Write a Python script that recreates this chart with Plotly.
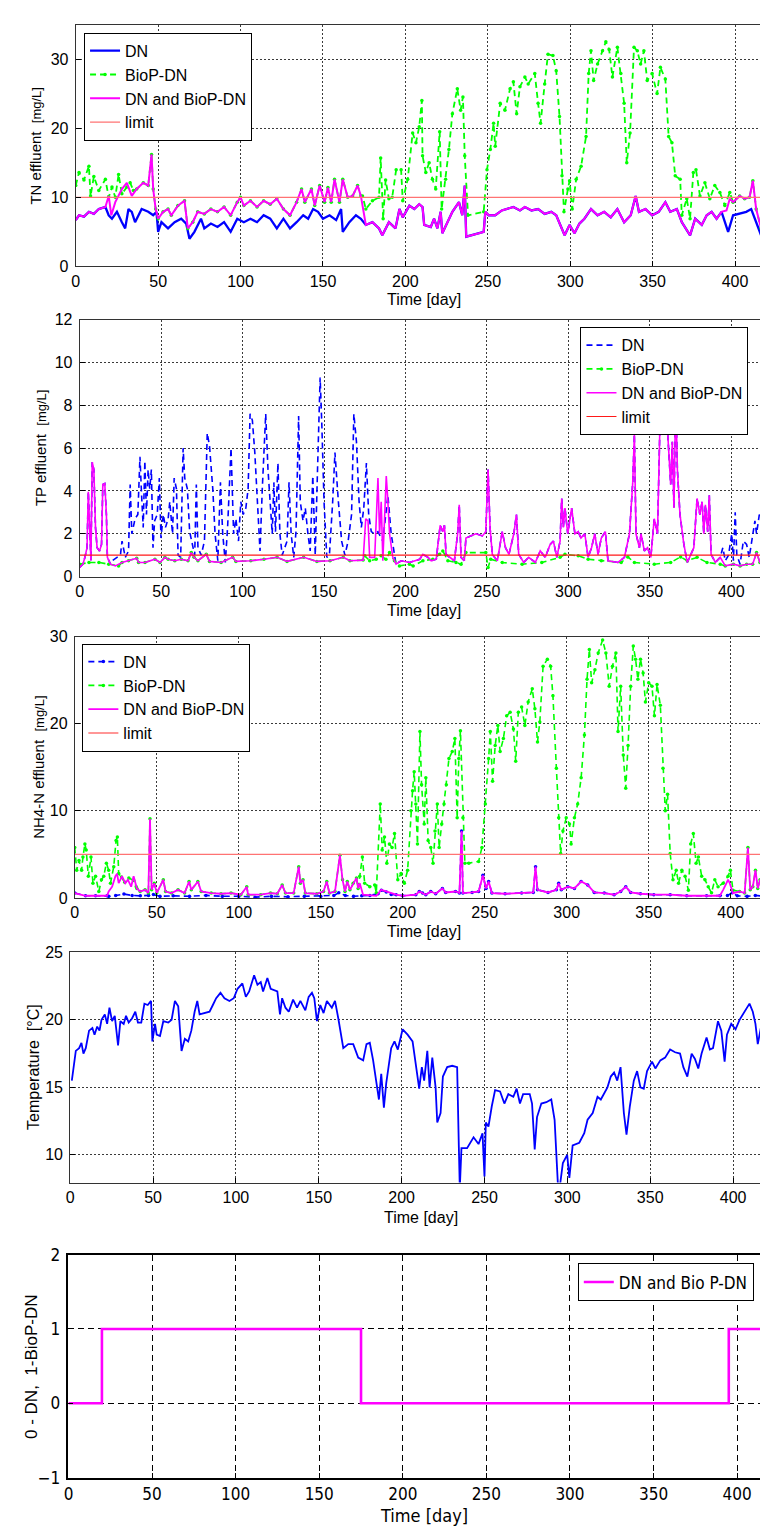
import plotly.graph_objects as go

# ---------------- data ----------------
x_ticks = [0, 50, 100, 150, 200, 250, 300, 350, 400]
limit_days = [0, 430]
tn_limit = 10
tp_limit = 1
nh_limit = 5

# TN effluent [mg/L]
tn_combined = [(0,6.7),(2,7.4),(5,7.2),(8,7.9),(11,7.6),(14,8.3),(18,8.6),(20,10.2),(21.6,7.4),(24,9.3),(28,11.2),(31,12.1),(34,10.2),(37,11.2),(41,12.1),(44,11.7),(46,16.2),(47,11.2),(48.5,8.3),(50,6.9),(53,7.9),(56,8.3),(58,7.4),(62,8.8),(66,9.5),(68,5.5),(71,6.4),(74,7.9),(78,7.6),(82,8.3),(86,7.9),(90,8.6),(94,7.4),(98,9.3),(100,10),(102,8.8),(106,9.5),(110,8.6),(114,9.5),(118,9),(122,9.8),(126,8.3),(130,7.4),(134,9.3),(137,11.2),(139,9.3),(143,11.2),(145,8.8),(148,11.7),(151,9.3),(153,11.4),(155,9.3),(157,12.6),(160,9.3),(162,12.6),(165,10),(168,10.2),(171,11.7),(173,10.2),(176,6),(180,6.4),(184,5.5),(186,4.5),(190,6.4),(194,5.5),(196.4,8.3),(198.4,7.1),(202.4,8.8),(205.4,8.3),(208.4,9),(210.4,8.6),(211.4,6),(215.4,5.7),(217.4,6.9),(219.4,5.5),(221.4,7.9),(222.4,4.8),(225.4,6.4),(228.5,7.9),(232.5,9.3),(234.5,7.4),(236,11.7),(236.9,4.3),(247.5,5),(248.5,7.9),(250.5,7.4),(254.5,7.4),(258.5,8.1),(265.5,8.6),(269.5,8.1),(272.5,8.6),(276.5,8.1),(280.5,8.3),(284.5,7.6),(288.5,7.9),(291.5,7.4),(294.6,5.5),(296.6,4.5),(299.6,6),(302.6,4.8),(305.6,6.2),(308.6,6.9),(312.6,8.3),(316.6,7.4),(320.6,7.9),(324.6,7.1),(328.6,8.3),(332.7,6.4),(336.7,7.4),(339.7,10.2),(341.7,7.9),(345.7,8.3),(349.7,7.4),(353.7,7.9),(357.7,9.3),(360.7,7.9),(364.7,8.3),(367.7,6.4),(372.7,4.5),(375.8,6.9),(379.8,6),(382.8,7.4),(385.8,7.9),(388.8,6.9),(391.8,7.9),(394.8,8.1),(396.8,9.8),(398.8,9.3),(402.8,10.2),(405.8,9.8),(408.8,10),(410.8,12.4),(412.8,8.3),(415.8,5.5),(418.8,9.3),(420.8,8.3),(424,9.3)]
tn_dn_a = [(20,7.4),(22,6.9),(25,7.9),(28,6.4),(30,5.5),(32,8.3),(34,7.9),(36,6.4),(40,8.3),(44,7.9),(47,7.4),(49,7.9),(50,5),(52,6.4),(56,5.5),(60,6.4),(64,6.9),(67,6.2),(69,4),(72,5),(76,6.9),(78,5.5),(82,6.2),(86,5.7),(90,6.4),(94,5),(98,6.9),(102,6.4),(106,6.9),(110,6.4),(114,7.4),(118,6.9),(122,5.5),(126,6.9),(130,5.5),(134,6.4),(138,7.4),(141,6.9),(144,8.3),(147,7.9),(150,6.9),(154,7.4),(158,6.7),(161,8.3),(162,5),(166,6.4),(170,7.4),(173,6.9),(176,6)]
tn_dn_b = [(393.8,6.4),(395.8,5),(398.8,7.4),(402.8,7.6),(406.8,7.9),(409.8,8.3),(412.8,6.4),(415.8,4.5),(418.8,6.4),(424,7.1)]
tn_biop_a = [(0,11.7),(2,13.6),(5,12.5),(8,14.5),(9,10.2),(11,13),(14,11),(18,12.6),(20,10),(22,11.5),(24,10),(26,13.3),(28,10.5),(31,11.5),(33,12.1),(35,11)]
tn_biop_b = [(174,10.2),(176,8.3),(180,9.5),(184,10),(185,15.7),(186.5,6.9),(188,12.5),(190,9.8),(192,10),(194.4,14),(197.4,14),(198.4,9.5),(201.4,12.6),(204.4,19.3),(206.4,17.9),(208.4,20.2),(210,24),(210.4,16),(212.4,13.6),(214.4,15),(216.4,12.6),(218.4,11.2),(220.8,19.5),(222,8.3),(224.4,12.6),(226.4,16.9),(228.5,22.1),(231.5,25.7),(233.5,22.6),(234.9,24.5),(236,16),(238,7.4),(247.5,7.9),(249.5,14),(251.5,16.9),(253.5,20.7),(254.5,17.4),(257.5,23.6),(260.4,22.6),(263.5,25.7),(265.5,26.7),(267.5,22.1),(269.5,26),(272.5,27.4),(274.5,26.4),(278.5,27.9),(280.5,23.6),(282,20.7),(284.5,26.4),(286.5,30.7),(289.5,30.5),(291.5,28.3),(293.5,21.7),(295,13.1),(296.2,7.9),(298.6,11.2),(299.6,12.4),(301.2,8.3),(303.6,12.6),(306.6,14.5),(309.6,18.8),(311.2,27.9),(312.6,31.2),(314.2,26.9),(316.6,29.3),(319.6,31.2),(321.6,32.5),(323.6,31.4),(325.6,27.4),(328.6,31.7),(330.7,27.9),(332.7,23.6),(334.3,15),(336.3,19.3),(338.7,31.7),(340.7,31.2),(342.7,29.3),(344.7,31.2),(346.7,26.9),(349.7,27.9),(352.7,25),(354.7,28.8),(357.7,27.1),(359.7,18.8),(361.7,17.9),(363.7,13.1),(366.7,12.6),(367.7,7.4),(370.7,9.8),(372.7,6.9),(374.7,13.6),(376.3,14),(378.7,10.2),(381.7,12.1),(384.7,9.8),(387.7,11.7),(390.8,10.7),(393.8,8.8),(396.8,10.7)]

# TP effluent [mg/L]
tp_combined = [(0,0.43),(2,0.58),(3.2,0.9),(4.5,1.35),(5.3,3.96),(6.3,2.3),(6.9,0.74),(7.7,5.35),(8.7,5),(9.7,2.3),(10.7,1.35),(12.2,1.2),(13.4,1.5),(14.2,4.3),(15.4,4.35),(16.4,2.9),(17,0.9),(18.9,0.58),(21.9,0.5),(26,0.66),(30,0.74),(35,0.86),(36.1,0.66),(40.1,0.66),(46.2,0.81),(49.3,0.66),(52.3,0.9),(54.3,0.81),(58.4,0.74),(62.4,0.81),(66.5,0.74),(68.5,1.12),(70.2,0.9),(72.6,0.74),(77.7,1.04),(79.7,0.71),(86.8,0.66),(93.9,0.9),(95.9,0.71),(105,0.74),(113.1,0.81),(121.2,0.9),(127.3,0.71),(137.5,0.9),(145.6,0.71),(153.7,0.74),(161.8,0.9),(165.9,0.74),(174,0.77),(175.6,2.7),(177,2.6),(178,0.9),(181.1,0.9),(183.1,4.6),(184.1,2),(185.1,3.5),(186.1,0.74),(188.2,4.7),(189.2,3.5),(190.2,2),(192.2,0.9),(194.2,0.58),(197.3,0.74),(202.5,0.66),(208.7,0.81),(210.7,1.04),(213.8,0.9),(215.8,0.74),(218.9,0.81),(221.3,2.4),(222.9,2.1),(223.9,2.4),(224.9,1.04),(227,0.9),(230,0.74),(232,2),(233,3.35),(234.1,0.9),(236.1,0.74),(237.1,1.8),(240.1,1.9),(243.2,2),(247.2,1.9),(249.3,2.1),(250.7,5),(251.9,2.3),(253.3,1.04),(256.4,0.74),(259.4,2.1),(261.4,1.35),(263.5,1.04),(266.5,2),(268.1,2.9),(269.5,1.04),(272.6,0.66),(275.6,0.9),(279.7,0.66),(282.7,1.2),(285.8,0.9),(288.8,1.5),(290.8,1.66),(292.9,0.9),(294.9,1.66),(295.9,3.65),(296.9,2.3),(297.9,3.2),(299.6,2),(301,2.6),(302,3.2),(304,2),(306,2.1),(307.7,1.8),(310.1,2),(312.1,0.9),(314.2,1.35),(316.2,2),(318.2,1.04),(320.2,1.8),(322.7,2.1),(324.3,0.74),(330.4,0.66),(334.4,0.9),(337.5,2),(339.5,4.4),(340.5,6.65),(341.5,2),(343.6,1.35),(344.6,2),(346.6,1.2),(348.6,1.35),(350.6,0.9),(352.7,2.7),(354.7,2),(356.7,8.8),(357.7,7.6),(359.8,8.2),(361.8,5.8),(362.8,4.3),(363.8,6.3),(364.8,3.2),(365.9,8.5),(366.9,5),(368.5,2.9),(370.9,1.5),(373,0.66),(375,1.04),(377,1.35),(379,3.65),(380.7,2.9),(382.1,3.5),(383.1,2),(384.1,3.35),(385.5,2.1),(386.5,3.8),(387.6,1.04),(390.2,0.66),(393.2,0.9),(396.3,0.5),(401.3,0.58),(405.4,0.5),(409.4,0.58),(413.1,0.58),(415.5,1.12),(417.6,0.66),(426.5,0.66)]
tp_dn_a = [(19.9,0.74),(22.9,0.9),(25,1),(26,1.66),(28,0.9),(30,1.2),(31,4.3),(32,2),(34,2.7),(35.7,2.9),(37,5.6),(38,3.8),(39,2.3),(40,5.4),(41,2.9),(42,5),(43,4.1),(44,5),(45,1.35),(46,2.6),(47.6,2.9),(48.9,4.6),(49.9,1.8),(51.3,2.9),(52.7,2.3),(54.3,2.7),(55.3,3.5),(57,2),(58,4.6),(59.4,4.1),(60.4,1),(62,0.9),(63.5,6),(64.5,4.6),(66.1,4.1),(67.5,2.1),(69.5,1.35),(70.6,1),(71.6,4.3),(72.6,1.35),(74.6,1),(76.6,1.66),(78.3,6.7),(79.7,6.1),(81.7,4.1),(83.1,2),(84.8,0.74),(86.4,4.4),(87.8,2),(89.4,0.66),(90.8,2.3),(92.9,6),(94.5,2),(95.9,2.7),(97.5,1.66),(98.9,3.5),(100.4,2.9),(102,3.2),(103.4,4.1),(104.6,7.6),(106,7.3),(107.5,5.8),(109.1,3.5),(110.7,1.2),(112.1,4.1),(114.2,7.6),(115.6,5),(117.2,2.9),(118.2,2),(119.2,4.4),(120.2,2.1),(121.7,5.3),(122.9,2),(124.3,1),(125.7,1.35),(127.3,1.66),(128.5,4.4),(129.8,2),(131.4,0.9),(132.8,2.1),(134.4,7.5),(135.4,3.5),(137.1,2.6),(138.5,3.2),(140.1,2),(141.5,1.2),(143.1,4.7),(144.6,1),(146,5),(147.6,9.3),(148.6,7.2),(150,3.5),(151.7,0.9),(153.3,1),(155.3,3.5),(156.7,5.8),(158.8,3.5),(160.8,1.66),(162.8,1),(164.8,1.66),(166.9,2.9),(168.3,7.6),(169.9,6.3),(171.5,3.5),(172.9,2.3),(174.4,3.2),(176,5.3),(177.4,2.9),(179,2.1),(181,2),(183.1,2.1),(186.1,1.66),(189.2,3.8),(191.2,2),(194.2,0.58),(197.3,0.74)]
tp_dn_b = [(393.2,0.9),(394.8,1.35),(396.3,0.74),(398.3,1),(400.3,2),(401.3,0.74),(402.4,3),(403.4,1),(405.4,0.58),(407.4,1.66),(409.4,1.5),(411,0.9),(412.5,1.66),(414.5,2.6),(415.5,2),(417.2,2.9),(418.6,2.7),(420.6,3.8),(422.6,5.3),(423.6,6.5),(425.5,1)]
tp_biop_a = [(0,0.58),(5.7,0.66),(11.8,0.66),(17.8,0.58),(23.9,0.5)]
tp_biop_b = [(175,0.97),(178,0.74),(182,0.81),(185,0.97),(188,0.81),(190.2,1.12),(193.2,0.74),(196.3,0.5),(202.4,0.58),(204.7,0.5),(210.7,0.74),(216.8,0.81),(220.9,1.04),(222.9,1.2),(226,0.74),(231,0.66),(234.1,0.58),(237.1,1.12),(249.3,1.12),(250.7,0.43),(252.3,0.81),(259.4,0.66),(271.6,0.58),(283.7,0.66),(294.9,0.9),(297.9,1.04),(306,0.97),(312.1,0.81),(320.2,0.74),(332.4,0.66),(336.5,0.92),(340.5,0.66),(352.7,0.58),(362.8,0.66),(368.9,0.92),(373,0.74),(379,0.9),(385.1,0.66),(393.2,0.58)]

# NH4-N effluent [mg/L]
nh_combined = [(0,0.57),(6.6,0.26),(12.7,0.26),(19.7,0.26),(20.7,0.75),(22.8,1.3),(24.8,2.5),(25.8,2.8),(26.8,1.7),(28.8,2.5),(30.8,1.7),(32.4,2.1),(34.4,1.3),(35.9,2.5),(37.9,1.1),(39.9,0.75),(42.9,0.94),(44.9,0.57),(45.9,9.1),(46.9,0.94),(48.5,1.7),(50,0.57),(54,2.1),(55.4,0.75),(59,0.57),(63,0.94),(67,0.57),(69.7,1.9),(71.1,0.94),(75.1,1.9),(77.1,0.75),(83.2,0.57),(89.2,0.49),(95.3,0.57),(101.3,0.38),(104.9,1.3),(105.7,0.38),(113.4,0.38),(119.4,0.57),(123.5,0.49),(126.5,1.5),(128.5,0.57),(133.5,0.57),(136.6,3.6),(137.6,1.7),(139.2,2.1),(140.6,0.57),(147.6,0.49),(151.7,0.75),(153.7,1.9),(155.3,0.57),(158.7,0.75),(161.7,4.9),(163.3,2.1),(164.8,0.75),(166.2,1.9),(167.8,0.94),(169.8,1.7),(171.8,2.3),(172.8,1.1),(173.8,1.7),(175.8,0.38),(183.9,0.26),(186.9,0.94),(190,0.75),(196,0.38),(200,0.26),(208,0.38),(210.1,0.75),(212.1,0.57),(214.1,0.38),(217.1,0.75),(220.1,0.49),(224.2,1.1),(226.2,0.64),(232.2,0.75),(234.6,0.57),(235.9,7.7),(236.7,0.57),(242.3,0.64),(246.3,0.75),(248.9,2.6),(250.8,1.1),(252.4,1.9),(254.4,0.57),(262.4,0.49),(272.5,0.57),(279.6,0.64),(281,3.6),(282.2,0.94),(288.6,0.64),(293.7,0.94),(295.1,1.7),(296.7,0.94),(300.7,1.3),(304.7,1.1),(308.8,1.9),(312.8,1.5),(316.8,0.64),(322.9,0.57),(328.9,0.38),(332.9,0.75),(336,1.3),(339,0.64),(345,0.49),(353.1,0.38),(363.1,0.38),(373.2,0.26),(385.3,0.26),(393.4,0.26),(395.4,0.94),(398.4,2.1),(399.4,1.7),(401.4,0.57),(405.4,0.75),(408.5,0.57),(410.5,5.8),(411.9,0.94),(413.5,1.3),(415.1,3.2),(416.5,1.1),(417.9,2.1),(419.5,0.57),(423.6,0.75),(426.4,0.94)]
nh_dn_a = [(20.7,0.2),(25,0.3),(30,0.45),(35,0.3),(40,0.25),(45,0.3),(48,0.4),(52,0.2),(60,0.25),(70,0.2),(80,0.3),(90,0.2),(100,0.2),(110,0.1),(120,0.2),(130,0.15),(140,0.2),(150,0.2),(158,0.3),(161,0.6),(165,0.3),(170,0.2),(175,0.25),(180,0.3),(185,0.5),(187,0.9),(190,0.7),(193,0.4),(196,0.38)]
nh_dn_b = [(393.4,0.26),(398,0.3),(401,0.6),(404,0.25),(410,0.2),(415,0.3),(420,0.2),(426.4,0.2)]
nh_biop_a = [(0,5.8),(1.2,3.2),(2.6,4.3),(4.2,3.2),(5,4.7),(6.2,6.2),(7,5.5),(8.3,2.5),(9.9,4.7),(11.1,1.7),(12.7,2.5),(14.7,0.75),(16.3,2.1),(17.7,2.5),(19.3,4),(20.7,3.2),(21.8,1.7),(23.8,3.6),(25.2,6.6),(26,7),(26.8,2.8),(28.5,2.4),(30.5,1.8),(33,2.3),(36,2),(37.5,1.3)]
nh_biop_b = [(173.8,2.5),(175.4,4.7),(176.8,1.7),(179.9,1.3),(182.9,1.5),(183.9,0.6),(186.3,10.8),(187.5,5.5),(188.9,7),(190.3,4),(191.9,6.2),(193.5,5.8),(195,7.4),(197,2.1),(199,2.8),(201,1.7),(203,3.2),(205,10),(206,12.3),(207,14.5),(208,10.8),(209,6.2),(210.5,19.1),(211.5,13),(213.1,8.5),(214.1,13.8),(215.5,6.6),(217.1,5.8),(218.5,4),(219.7,7.7),(221.1,10.8),(222.2,5.8),(223.8,8.5),(225.2,10.8),(226.6,13),(228.2,16),(230.2,16.8),(231.8,18.3),(233.2,9.2),(234.2,16),(235.2,19.2),(236.7,9.2),(237.9,4),(240.3,4),(246.3,4.2),(248.3,5.8),(250.4,10.8),(252.4,16),(253.4,19.1),(254.8,13.4),(256.4,17.5),(258,19.8),(259.4,16.8),(261.4,18.3),(263.4,20.9),(265.5,21.3),(267.5,19.4),(268.9,15.7),(270.5,21.3),(272.5,21.9),(274.5,19.8),(276.5,22.5),(279,24),(280.6,21.7),(282.2,17.9),(283.6,20.2),(285.6,26.6),(288.2,27.4),(290.2,26.6),(291.6,23.2),(293.7,14.9),(295.1,9.2),(296.3,5.1),(297.7,7.7),(299.7,9.2),(301.7,8.5),(302.7,6.2),(304.7,9.2),(306.7,10.8),(308.8,13.8),(310.8,18.7),(312.4,25.1),(313.8,28.5),(315.2,24.7),(317.2,26.2),(319.2,28.1),(321.9,29.6),(323.9,28.1),(325.9,24.3),(327.9,26.6),(330,28.1),(331.3,19.1),(332.9,24.3),(334.5,16.4),(336,12.6),(337.4,17.5),(339,24.3),(340.6,28.9),(342,27.4),(343.4,25.1),(345,27.4),(346.6,25.8),(348,22.5),(350,24.7),(352,24.3),(353.5,20.9),(355.1,24.5),(357.1,22.1),(358.7,14.9),(360.1,10),(361.5,11.9),(363.1,5.1),(364.8,2.1),(366.8,3.2),(368.2,1.7),(370.2,3.2),(372.2,2.5),(374.2,0.9),(375.6,6.2),(377.2,7.4),(378.9,4),(380.3,4.7),(382.3,2.5),(384.3,2.1),(386.3,1.3),(388.3,0.6),(390.3,2.1),(392.3,1.3),(395.4,1.7),(398.4,2.5),(399.8,3.2),(401.4,0.9)]

# Temperature [°C]
temperature = [(1,15.5),(2.4,17),(3.4,17.7),(5.4,17.9),(6.8,18.3),(8,17.5),(9.4,17.9),(11.4,19.2),(13.4,19.4),(14.7,18.9),(16.3,19.5),(17.7,19.2),(18.9,20),(20.9,20.4),(22.3,19.7),(23.7,20.9),(25.3,19.9),(26.9,20.3),(28.9,18.1),(30.3,19.9),(32.3,19.7),(33.7,20.3),(35.3,19.8),(37.3,20.1),(39.3,20.6),(40.9,19.8),(42.9,19.8),(44.8,21.2),(46.8,21.1),(48.8,21.4),(49.6,18.4),(51.2,19.7),(52.2,18.9),(54.2,18.8),(56.2,19.9),(59.2,19.8),(61.2,20),(63.2,21.4),(65.2,21),(67.2,17.7),(69.2,18.6),(71.2,18.4),(73.1,19.2),(75.1,20.6),(76.7,21.4),(78.1,20.4),(81.1,20.5),(84.1,20.6),(86.1,21.1),(88.1,21.6),(90.7,22),(93.1,21.6),(96.1,21.4),(98.7,21.6),(101,22.3),(103.9,22.7),(106,21.7),(108,22.1),(111,23.3),(113,22.6),(115,22.8),(116.4,22.1),(119,23.1),(121,22.3),(125,22.1),(126.6,20.4),(127.9,21.6),(129.9,20.9),(131.9,20.6),(134.5,21.5),(136.9,20.9),(138.9,21.4),(141.9,20.7),(143.9,21.7),(145.9,22),(147.3,21.6),(148.9,19.9),(150.9,21.1),(152.9,20.5),(154.9,21.4),(157.9,20.9),(159.8,21.4),(161.8,20.1),(163.8,18.7),(164.8,17.9),(167.8,18.2),(170.8,18.2),(173.8,17.2),(176.8,17),(178.8,18.2),(180.8,18.3),(182.8,17),(184.8,15.5),(186.3,14.1),(187.7,16),(189.3,13.5),(190.7,15.3),(193.7,17.9),(195.7,18.4),(197.7,17.8),(200.6,19.3),(203.6,18.9),(206.6,18.4),(208.6,16.5),(210.6,14.9),(212.2,16.5),(213.6,15.5),(215.5,17.7),(216.9,15),(218.5,17.2),(220.5,15),(221.5,12.4),(223.5,13.1),(224.9,15.8),(227.5,16.5),(230.5,16.6),(233.5,16.5),(234.5,10.7),(235.1,7.5),(236.1,10.5),(239.5,10.5),(243.4,11.3),(246.4,10.8),(248.8,11.6),(250,8.4),(250.8,12.4),(252.4,12.1),(254.4,13.6),(256.4,14.8),(259.4,14.7),(262,13.8),(264.4,14.5),(267.4,14.3),(269.4,14.9),(271.4,13.8),(273.3,14.5),(277.3,14.5),(278.7,13.8),(280.3,10.4),(281.7,12.8),(284.3,13.8),(287.3,13.9),(290.3,14.1),(292.3,12.6),(294.3,7.8),(295.3,7.5),(297.3,9.4),(299.9,10),(301.2,8.3),(303.2,10.7),(305.2,10.8),(307.2,10.9),(310.2,11.6),(312.2,12.6),(315.3,13.1),(318.2,14.3),(320.2,14.1),(322.2,14.5),(324.2,15),(326.2,15.8),(328.2,16.1),(330.1,15.5),(332.1,16.5),(334.1,13.1),(335.7,11.5),(337.7,13.6),(340.1,15.5),(342.1,16.2),(344.1,15),(346.1,14.9),(348.1,16.2),(351.1,16.9),(353.1,16.4),(356.1,17),(359,17.2),(362,17.8),(365,17.6),(368,17.5),(370,16.5),(372.4,15.8),(375,17.5),(377,17.1),(379,16.4),(381,17.5),(384,18.7),(386,17.8),(387.9,17.9),(390.9,19.9),(392.9,19.2),(394.9,16.9),(396.3,18.9),(398.9,19.7),(401.5,19.3),(403.9,20),(406.9,20.6),(409.9,21.2),(411.9,20.6),(413.5,19.7),(414.9,18.2),(416.9,19.5),(418.9,20),(421.8,20.1),(423.8,21),(425,21.2)]

# Operating mode: 0 - DN, 1 - BioP-DN
mode_days = [0, 20, 175, 395, 425]
mode_state = [0, 1, 0, 1, 1]

# ---------------- helpers ----------------
def between(pts, lo, hi):
    return [p for p in pts if lo < p[0] < hi]

def xs(pts):
    return [p[0] for p in pts]

def ys(pts):
    return [p[1] for p in pts]

# hidden stretches lie under the combined curve
tn_dn = between(tn_combined, -1, 20) + tn_dn_a + between(tn_combined, 176, 393.8) + tn_dn_b
tn_biop = tn_biop_a + between(tn_combined, 35, 174) + tn_biop_b + between(tn_combined, 396.8, 999)
tp_dn = between(tp_combined, -1, 19.9) + tp_dn_a + between(tp_combined, 197.3, 393.2) + tp_dn_b
tp_biop = tp_biop_a + between(tp_combined, 23.9, 175) + tp_biop_b + between(tp_combined, 393.2, 999)
nh_dn = between(nh_combined, -1, 20.7) + nh_dn_a + between(nh_combined, 196, 393.4) + nh_dn_b
nh_biop = nh_biop_a + between(nh_combined, 37.5, 173.8) + nh_biop_b + between(nh_combined, 401.4, 999)

# ---------------- figure ----------------
W, H = 768, 1529
FONT = "Liberation Sans, Arial, Helvetica, sans-serif"
NARROW = "Liberation Sans Narrow, Arial Narrow, DejaVu Sans Condensed, sans-serif"
BLUE, GREEN, MAG = "#0000FF", "#00FF00", "#FF00FF"

# pixel geometry of the five plot boxes
panels = [
    dict(left=63.3, top=7.3, bottom=251.7, ppu=1.6635, yr=[0, 34.9], yt=[0, 10, 20, 30]),
    dict(left=67.3, top=305.7, bottom=566.0, ppu=1.644, yr=[0, 12], yt=[0, 2, 4, 6, 8, 10, 12]),
    dict(left=62.3, top=626.7, bottom=891.7, ppu=1.655, yr=[0, 30], yt=[0, 10, 20, 30]),
    dict(left=57.7, top=946.7, bottom=1180.0, ppu=1.6725, yr=[7.95, 25], yt=[10, 15, 20, 25]),
    dict(left=56.0, top=1253.0, bottom=1479.0, ppu=1.687, yr=[-1, 2], yt=[-1, 0, 1, 2]),
]

fig = go.Figure()

def add(i, pts_x, pts_y, name, color, width, dash="solid", marker=False, legend="legend", show=True, shape="linear"):
    sfx = "" if i == 0 else str(i + 1)
    fig.add_trace(go.Scatter(
        x=pts_x, y=pts_y, name=name,
        mode="lines+markers" if marker else "lines",
        line=dict(color=color, width=width, dash=dash, shape=shape),
        marker=dict(size=3.5, color=color),
        xaxis="x" + sfx, yaxis="y" + sfx,
        legend=legend, showlegend=show, hoverinfo="skip"))

DASH = "6px,4px"
LIM_LIGHT = "rgb(255,115,115)"
LIM_RED = "rgb(255,25,25)"

# panel 1
add(0, xs(tn_dn), ys(tn_dn), "DN", BLUE, 2.3, legend="legend")
add(0, xs(tn_biop), ys(tn_biop), "BioP-DN", GREEN, 1.8, DASH, marker=True, legend="legend")
add(0, xs(tn_combined), ys(tn_combined), "DN and BioP-DN", MAG, 2.0, legend="legend")
add(0, limit_days, [tn_limit, tn_limit], "limit", LIM_LIGHT, 1.3, legend="legend")
# panel 2
add(1, xs(tp_dn), ys(tp_dn), "DN", BLUE, 1.6, DASH, legend="legend2")
add(1, xs(tp_biop), ys(tp_biop), "BioP-DN", GREEN, 1.6, DASH, marker=True, legend="legend2")
add(1, xs(tp_combined), ys(tp_combined), "DN and BioP-DN", MAG, 1.6, legend="legend2")
add(1, limit_days, [tp_limit, tp_limit], "limit", LIM_RED, 1.2, legend="legend2")
# panel 3
add(2, xs(nh_dn), ys(nh_dn), "DN", BLUE, 1.6, DASH, marker=True, legend="legend3")
add(2, xs(nh_biop), ys(nh_biop), "BioP-DN", GREEN, 1.6, DASH, marker=True, legend="legend3")
add(2, xs(nh_combined), ys(nh_combined), "DN and BioP-DN", MAG, 1.8, legend="legend3")
add(2, limit_days, [nh_limit, nh_limit], "limit", LIM_LIGHT, 1.3, legend="legend3")
# panel 4
add(3, xs(temperature), ys(temperature), "Temperature", BLUE, 1.8, show=False)
# panel 5
add(4, mode_days, mode_state, "DN and Bio P-DN", MAG, 2.6, legend="legend4", shape="hv")

layout = dict(
    width=W, height=H, autosize=False,
    margin=dict(l=0, r=0, t=0, b=0, pad=0),
    paper_bgcolor="white", plot_bgcolor="white",
    font=dict(family=FONT, size=16, color="black"),
    showlegend=True,
)

for i, p in enumerate(panels):
    sfx = "" if i == 0 else str(i + 1)
    last = i == 4
    tickfont = dict(family=NARROW if last else FONT, size=17 if last else 16, color="black")
    grid = dict(gridcolor="#000000" if last else "#3a3a3a", gridwidth=1,
                griddash="6px,4px" if last else "2px,2px")
    xmax = (W - p["left"]) / p["ppu"]
    layout["xaxis" + sfx] = dict(
        domain=[p["left"] / W, 1], range=[0, xmax], anchor="y" + sfx,
        tickmode="array", tickvals=x_ticks, tickfont=tickfont,
        showgrid=True, zeroline=False, showline=True,
        linecolor="black" if last else "#333333", linewidth=1.5 if last else 1, mirror=True,
        ticks="inside", ticklen=5, tickcolor="black", ticklabelstandoff=0, **grid)
    layout["yaxis" + sfx] = dict(
        domain=[1 - p["bottom"] / H, 1 - p["top"] / H], range=p["yr"], anchor="x" + sfx,
        tickmode="array", tickvals=p["yt"], tickfont=tickfont,
        showgrid=True, zeroline=False, showline=True,
        linecolor="black" if last else "#333333", linewidth=1.5 if last else 1, mirror=True,
        ticks="inside", ticklen=5, tickcolor="black", ticklabelstandoff=3, **grid)

def legend_box(px, py, family=FONT, size=16):
    return dict(x=px / W, y=1 - py / H, xanchor="left", yanchor="top",
                xref="paper", yref="paper",
                bgcolor="white", bordercolor="black", borderwidth=1,
                font=dict(family=family, size=size, color="black"),
                tracegroupgap=0, itemwidth=30, traceorder="normal")

layout["legend"] = legend_box(71.7, 15)
layout["legend2"] = legend_box(572.7, 313.3)
layout["legend3"] = legend_box(70, 634)
layout["legend4"] = legend_box(570, 1262, NARROW, 17)

def ann(text, px, py, angle=0, size=16, family=FONT):
    return dict(text=text, x=px / W, y=1 - py / H, xref="paper", yref="paper",
                showarrow=False, textangle=angle, xanchor="center", yanchor="middle",
                font=dict(size=size, family=family, color="black"))

small = "<span style='font-size:13px'>[mg/L]</span>"
layout["annotations"] = [
    ann("TN effluent  " + small, 23, 129.5, -90, 15),
    ann("TP effluent  " + small, 28, 436, -90, 15),
    ann("NH4-N effluent  " + small, 25, 759, -90, 15),
    ann("Temperature  [°C]", 20, 1063, -90, 16),
    ann("0 - DN,  1-BioP-DN", 18, 1366, -90, 17),
    ann("Time [day]", 415, 285),
    ann("Time [day]", 415, 600),
    ann("Time [day]", 415, 926),
    ann("Time [day]", 412, 1215),
    ann("Time [day]", 415, 1517, 0, 18, NARROW),
]

fig.update_layout(**layout)
fig.write_html("out.html", config={"displayModeBar": False})
